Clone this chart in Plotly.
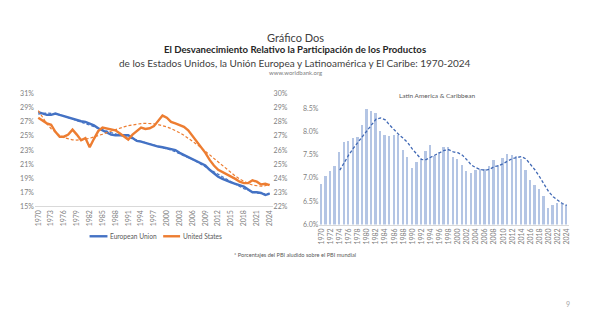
import numpy as np
import plotly.graph_objects as go

# ---- data -------------------------------------------------------------
years = list(range(1970, 2025))

# share of world GDP, % (European Union, left axis)
eu_share = [28.4, 28.2, 28.0, 28.0, 28.2, 28.0, 27.8, 27.6, 27.4, 27.2,
            27.1, 27.0, 26.8, 26.5, 26.1, 25.8, 25.4, 25.2, 25.1, 25.1,
            25.2, 25.1, 24.7, 24.3, 24.2, 24.0, 23.8, 23.6, 23.5, 23.4,
            23.3, 23.2, 23.0, 22.6, 22.3, 22.0, 21.7, 21.5, 21.2, 20.8,
            20.2, 19.7, 19.2, 18.9, 18.6, 18.4, 18.2, 18.0, 17.8, 17.4,
            17.0, 17.0, 16.9, 16.6, 16.8]

# share of world GDP, % (United States, right axis)
us_share = [28.3, 28.1, 27.9, 27.8, 27.3, 26.95, 26.95, 27.1, 27.45, 27.1,
            26.7, 26.85, 26.2, 26.8, 27.35, 27.6, 27.55, 27.45, 27.4, 27.2,
            27.0, 26.75, 27.1, 27.35, 27.6, 27.5, 27.55, 27.7, 28.1, 28.45,
            28.3, 28.0, 27.9, 27.8, 27.65, 27.4, 27.0, 26.6, 26.2, 25.8,
            25.3, 24.9, 24.6, 24.45, 24.3, 24.15, 23.95, 23.75, 23.65, 23.65,
            23.85, 23.75, 23.55, 23.6, 23.5]

# share of world GDP, % (Latin America & Caribbean)
lac_share = [6.87, 7.03, 7.14, 7.25, 7.55, 7.77, 7.79, 7.85, 7.88, 8.13,
             8.48, 8.44, 8.40, 8.00, 7.93, 7.90, 7.91, 7.92, 7.59, 7.45,
             7.22, 7.33, 7.40, 7.57, 7.70, 7.48, 7.55, 7.66, 7.66, 7.45,
             7.40, 7.28, 7.15, 7.10, 7.17, 7.20, 7.20, 7.26, 7.38, 7.28,
             7.43, 7.51, 7.49, 7.48, 7.40, 7.17, 6.96, 6.85, 6.75, 6.61,
             6.36, 6.41, 6.45, 6.43, 6.42]

left_ticks_x = list(range(1970, 2025, 3))
right_ticks_x = list(range(1970, 2025, 2))
eu_ticks = list(range(15, 32, 2))
us_ticks = list(range(22, 31, 1))
lac_ticks = [6.0, 6.5, 7.0, 7.5, 8.0, 8.5]

# ---- derived trend lines ---------------------------------------------
yr = np.array(years, dtype=float)
xc = (yr - yr.mean()) / 10.0
eu_trend = np.polyval(np.polyfit(xc, eu_share, 6), xc)
us_trend = np.polyval(np.polyfit(xc, us_share, 4), xc)
lac_arr = np.array(lac_share)
lac_ma = np.convolve(lac_arr, np.ones(5) / 5, mode="valid")
lac_ma_years = years[4:]

BLUE = "#4472C4"
ORANGE = "#ED7D31"
BAR = "#B4C5E4"
TICK = "#7F7F7F"
FONT = "Lato, 'Open Sans', sans-serif"

W, H = 589, 331


def px(x):
    return x / W


def py(y):
    return 1 - y / H


fig = go.Figure()

# left panel: EU (left axis) and US (right axis)
fig.add_trace(go.Scatter(x=years, y=eu_trend, mode="lines", xaxis="x", yaxis="y",
                         line=dict(color=BLUE, width=1.2, dash="3px,2px"),
                         showlegend=False, hoverinfo="skip"))
fig.add_trace(go.Scatter(x=years, y=eu_share, mode="lines", xaxis="x", yaxis="y",
                         name="European Union", line=dict(color=BLUE, width=2.4),
                         showlegend=False))
fig.add_trace(go.Scatter(x=years, y=us_trend, mode="lines", xaxis="x", yaxis="y2",
                         line=dict(color=ORANGE, width=1.2, dash="3px,2px"),
                         showlegend=False, hoverinfo="skip"))
fig.add_trace(go.Scatter(x=years, y=us_share, mode="lines", xaxis="x", yaxis="y2",
                         name="United States", line=dict(color=ORANGE, width=2.4),
                         showlegend=False))

# right panel: LAC bars with 5-year moving average
fig.add_trace(go.Bar(x=years, y=lac_share, xaxis="x3", yaxis="y3", width=0.4,
                     marker=dict(color=BAR, line=dict(width=0)),
                     name="Latin America & Caribbean", showlegend=False))
fig.add_trace(go.Scatter(x=lac_ma_years, y=lac_ma, mode="lines", xaxis="x3", yaxis="y3",
                         line=dict(color="#4169B5", width=1.3, dash="3px,2px"),
                         showlegend=False, hoverinfo="skip"))

tickfont = dict(family=FONT, size=7, color=TICK)

fig.update_layout(
    width=W, height=H,
    margin=dict(l=0, r=0, t=0, b=0),
    paper_bgcolor="white", plot_bgcolor="white",
    bargap=0,
    xaxis=dict(domain=[px(33), px(272)], range=[1969.2, 2024.7],
               tickmode="array", tickvals=left_ticks_x,
               ticktext=[str(v) for v in left_ticks_x], tickangle=-90,
               tickfont=tickfont, showgrid=False, zeroline=False,
               showline=True, linecolor="#D9D9D9", linewidth=1, ticks=""),
    yaxis=dict(domain=[py(206.3), py(91)], range=[15, 31],
               tickmode="array", tickvals=eu_ticks,
               ticktext=[f"{v}%" for v in eu_ticks],
               tickfont=tickfont, showgrid=False, zeroline=False,
               showline=False, ticks=""),
    yaxis2=dict(overlaying="y", side="right", range=[22, 30],
                tickmode="array", tickvals=us_ticks,
                ticktext=[f"{v}%" for v in us_ticks],
                tickfont=tickfont, showgrid=False, zeroline=False,
                showline=False, ticks="", anchor="x"),
    xaxis3=dict(domain=[px(319), px(570)], range=[1969.5, 2024.5], anchor="y3",
                tickmode="array", tickvals=right_ticks_x,
                ticktext=[str(v) for v in right_ticks_x], tickangle=-90,
                tickfont=tickfont, showgrid=False, zeroline=False,
                showline=True, linecolor="#D9D9D9", linewidth=1, ticks=""),
    yaxis3=dict(domain=[py(225), py(105.7)], range=[6.0, 8.5], anchor="x3",
                tickmode="array", tickvals=lac_ticks,
                ticktext=[f"{v:.1f}%" for v in lac_ticks],
                tickfont=tickfont, showgrid=False,
                zeroline=False, showline=False, ticks=""),
)

ann = [
    dict(text="Gráfico Dos", x=0.5, y=py(33), size=11, color="#404040"),
    dict(text="<b>El Desvanecimiento Relativo la Participación de los Productos</b>",
         x=0.5, y=py(46), size=9.6, color="#262626"),
    dict(text="de los Estados Unidos, la Unión Europea y Latinoamérica y El Caribe: 1970-2024",
         x=0.5, y=py(59), size=10, color="#404040"),
    dict(text="www.worldbank.org", x=0.5, y=py(69), size=6, color="#808080"),
    dict(text="Latin America & Caribbean", x=px(437), y=py(93), size=6.5, color="#595959"),
    dict(text="* Porcentajes del PBI aludido sobre el PBI mundial", x=px(294), y=py(256),
         size=5.6, color="#595959"),
    dict(text="9", x=px(569), y=py(306), size=7, color="#A6A6A6"),
]
for a in ann:
    fig.add_annotation(text=a["text"], x=a["x"], y=a["y"], xref="paper", yref="paper",
                       xanchor="center", yanchor="middle", showarrow=False,
                       font=dict(family=FONT, size=a["size"], color=a["color"]))

# legend for the left panel
legend_items = [("European Union", BLUE, 88, 106), ("United States", ORANGE, 162, 179)]
for label, color, x0, x1 in legend_items:
    fig.add_shape(type="line", xref="paper", yref="paper",
                  x0=px(x0), x1=px(x1), y0=py(237), y1=py(237),
                  line=dict(color=color, width=2.4))
    fig.add_annotation(text=label, x=px(x1 + 1), y=py(237), xref="paper", yref="paper",
                       xanchor="left", yanchor="middle", showarrow=False,
                       font=dict(family=FONT, size=6.6, color="#595959"))

fig.write_html("out.html")
